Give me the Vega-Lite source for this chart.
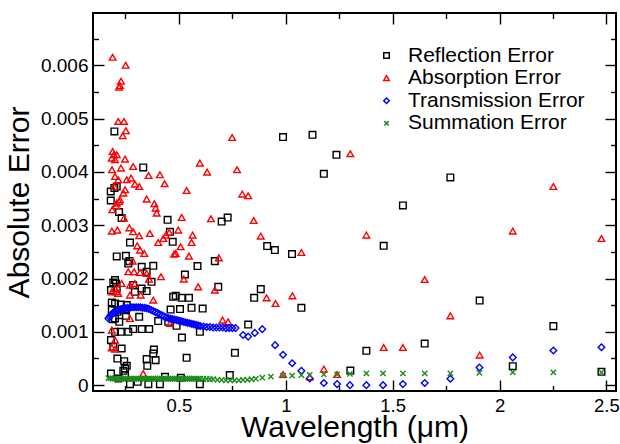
{
"$schema":"https://vega.github.io/schema/vega-lite/v6.json",
"width":523,"height":378,
"autosize":{"type":"none"},
"padding":{"left":93,"top":13,"right":4,"bottom":53},
"config":{"view":{"stroke":"black","strokeWidth":2},"font":"Liberation Sans",
"axis":{"domain":false,"grid":false,"tickColor":"black","tickWidth":1.4,"labelColor":"black","titleColor":"black","labelFont":"Liberation Sans","titleFont":"Liberation Sans","titleFontWeight":"normal","labelFontSize":19,"titleFontSize":30,"format":"~g"}},
"data":{"values":[
{"s":"R","x":0.198,"y":0.004758},{"s":"R","x":0.333,"y":0.004083},{"s":"R","x":0.181,"y":0.003632},{"s":"R","x":0.181,"y":0.003463},{"s":"R","x":0.209,"y":0.003726},{"s":"R","x":0.198,"y":0.003696},{"s":"R","x":0.22,"y":0.003246},{"s":"R","x":0.232,"y":0.003133},{"s":"R","x":0.447,"y":0.003101},{"s":"R","x":0.728,"y":0.003144},{"s":"R","x":0.7,"y":0.003069},{"s":"R","x":0.987,"y":0.004653},{"s":"R","x":1.125,"y":0.004696},{"s":"R","x":1.237,"y":0.004321},{"s":"R","x":1.178,"y":0.003964},{"s":"R","x":1.77,"y":0.003895},{"s":"R","x":1.548,"y":0.00337},{"s":"R","x":1.458,"y":0.002613},{"s":"R","x":1.907,"y":0.001587},{"s":"R","x":2.252,"y":0.001107},{"s":"R","x":1.377,"y":0.000644},{"s":"R","x":1.65,"y":0.00078},{"s":"R","x":2.062,"y":0.000356},{"s":"R","x":2.477,"y":0.00025},{"s":"R","x":1.302,"y":0.000274},{"s":"R","x":0.913,"y":0.002608},{"s":"R","x":0.949,"y":0.002533},{"s":"R","x":1.029,"y":0.002458},{"s":"R","x":1.073,"y":0.00145},{"s":"R","x":0.852,"y":0.001638},{"s":"R","x":0.883,"y":0.001801},{"s":"R","x":0.824,"y":0.001137},{"s":"R","x":0.762,"y":0.000606},{"s":"R","x":0.668,"y":0.002326},{"s":"R","x":0.684,"y":0.001844},{"s":"R","x":0.598,"y":0.001},{"s":"R","x":0.598,"y":0.000019},{"s":"R","x":0.738,"y":0.000188},{"s":"R","x":0.458,"y":0.002876},{"s":"R","x":0.471,"y":0.002689},{"s":"R","x":0.271,"y":0.002675},{"s":"R","x":0.252,"y":0.002426},{"s":"R","x":0.268,"y":0.002326},{"s":"R","x":0.263,"y":0.002281},{"s":"R","x":0.326,"y":0.00222},{"s":"R","x":0.38,"y":0.002238},{"s":"R","x":0.349,"y":0.002126},{"s":"R","x":0.372,"y":0.001938},{"s":"R","x":0.349,"y":0.001764},{"s":"R","x":0.326,"y":0.001812},{"s":"R","x":0.286,"y":0.001876},{"s":"R","x":0.294,"y":0.00175},{"s":"R","x":0.182,"y":0.001782},{"s":"R","x":0.206,"y":0.001906},{"s":"R","x":0.201,"y":0.00197},{"s":"R","x":0.193,"y":0.001925},{"s":"R","x":0.209,"y":0.001812},{"s":"R","x":0.186,"y":0.00155},{"s":"R","x":0.201,"y":0.001531},{"s":"R","x":0.228,"y":0.001512},{"s":"R","x":0.256,"y":0.001501},{"s":"R","x":0.186,"y":0.001407},{"s":"R","x":0.212,"y":0.001375},{"s":"R","x":0.248,"y":0.001407},{"s":"R","x":0.528,"y":0.002075},{"s":"R","x":0.587,"y":0.002233},{"s":"R","x":0.473,"y":0.001657},{"s":"R","x":0.485,"y":0.001675},{"s":"R","x":0.513,"y":0.001638},{"s":"R","x":0.547,"y":0.001638},{"s":"R","x":0.611,"y":0.001437},{"s":"R","x":0.559,"y":0.00145},{"s":"R","x":0.505,"y":0.001426},{"s":"R","x":0.461,"y":0.001418},{"s":"R","x":0.514,"y":0.000893},{"s":"R","x":0.489,"y":0.001113},{"s":"R","x":0.45,"y":0.001188},{"s":"R","x":0.403,"y":0.001201},{"s":"R","x":0.536,"y":0.000512},{"s":"R","x":0.38,"y":0.000593},{"s":"R","x":0.383,"y":0.000668},{"s":"R","x":0.352,"y":0.000362},{"s":"R","x":0.349,"y":0.000488},{"s":"R","x":0.391,"y":0.000469},{"s":"R","x":0.314,"y":0.001281},{"s":"R","x":0.286,"y":0.001051},{"s":"R","x":0.326,"y":0.001051},{"s":"R","x":0.263,"y":0.001},{"s":"R","x":0.228,"y":0.001},{"s":"R","x":0.201,"y":0.001},{"s":"R","x":0.361,"y":0.001051},{"s":"R","x":0.182,"y":0.000844},{"s":"R","x":0.193,"y":0.000719},{"s":"R","x":0.232,"y":0.000687},{"s":"R","x":0.212,"y":0.000499},{"s":"R","x":0.244,"y":0.00045},{"s":"R","x":0.256,"y":0.000362},{"s":"R","x":0.248,"y":0.000311},{"s":"R","x":0.24,"y":0.000268},{"s":"R","x":0.182,"y":0.000218},{"s":"R","x":0.216,"y":0.000124},{"s":"R","x":0.248,"y":0.000188},{"s":"R","x":0.271,"y":0.000019},{"s":"R","x":0.307,"y":0.000062},{"s":"R","x":0.357,"y":0.000019},{"s":"R","x":0.411,"y":0.000019},{"s":"R","x":0.435,"y":0.000156},{"s":"R","x":0.509,"y":0.000137},{"s":"R","x":0.19,"y":0.001238},{"s":"R","x":0.201,"y":0.00125},{"s":"R","x":0.221,"y":0.001188},{"s":"R","x":0.252,"y":0.0013},{"s":"R","x":0.209,"y":0.002413},
{"s":"A","x":0.19,"y":0.00615},{"s":"A","x":0.251,"y":0.006},{"s":"A","x":0.229,"y":0.0057},{"s":"A","x":0.224,"y":0.00562},{"s":"A","x":0.22,"y":0.00559},{"s":"A","x":0.216,"y":0.004946},{"s":"A","x":0.243,"y":0.004946},{"s":"A","x":0.237,"y":0.004677},{"s":"A","x":0.252,"y":0.004771},{"s":"A","x":0.19,"y":0.004383},{"s":"A","x":0.196,"y":0.004321},{"s":"A","x":0.209,"y":0.004321},{"s":"A","x":0.186,"y":0.004259},{"s":"A","x":0.201,"y":0.004227},{"s":"A","x":0.248,"y":0.00424},{"s":"A","x":0.286,"y":0.004101},{"s":"A","x":0.229,"y":0.004071},{"s":"A","x":0.187,"y":0.004039},{"s":"A","x":0.358,"y":0.003932},{"s":"A","x":0.411,"y":0.003946},{"s":"A","x":0.433,"y":0.003777},{"s":"A","x":0.201,"y":0.003914},{"s":"A","x":0.216,"y":0.003852},{"s":"A","x":0.256,"y":0.003852},{"s":"A","x":0.276,"y":0.003884},{"s":"A","x":0.294,"y":0.003771},{"s":"A","x":0.314,"y":0.003726},{"s":"A","x":0.198,"y":0.003726},{"s":"A","x":0.248,"y":0.003664},{"s":"A","x":0.24,"y":0.003602},{"s":"A","x":0.224,"y":0.003477},{"s":"A","x":0.22,"y":0.003445},{"s":"A","x":0.349,"y":0.00349},{"s":"A","x":0.385,"y":0.003402},{"s":"A","x":0.391,"y":0.003321},{"s":"A","x":0.396,"y":0.003227},{"s":"A","x":0.206,"y":0.003364},{"s":"A","x":0.188,"y":0.003289},{"s":"A","x":0.209,"y":0.003415},{"s":"A","x":0.536,"y":0.003651},{"s":"A","x":0.598,"y":0.004165},{"s":"A","x":0.632,"y":0.003996},{"s":"A","x":0.749,"y":0.004645},{"s":"A","x":0.772,"y":0.004039},{"s":"A","x":0.796,"y":0.003583},{"s":"A","x":0.824,"y":0.003552},{"s":"A","x":0.513,"y":0.003144},{"s":"A","x":0.65,"y":0.00312},{"s":"A","x":0.85,"y":0.003088},{"s":"A","x":0.243,"y":0.003133},{"s":"A","x":1.302,"y":0.00434},{"s":"A","x":2.252,"y":0.003726},{"s":"A","x":1.377,"y":0.002814},{"s":"A","x":2.062,"y":0.002889},{"s":"A","x":2.477,"y":0.00275},{"s":"A","x":1.65,"y":0.001981},{"s":"A","x":1.77,"y":0.0013},{"s":"A","x":1.458,"y":0.000705},{"s":"A","x":1.548,"y":0.000705},{"s":"A","x":1.907,"y":0.000563},{"s":"A","x":1.178,"y":0.0003},{"s":"A","x":1.24,"y":0.000199},{"s":"A","x":1.112,"y":0.000156},{"s":"A","x":0.186,"y":0.002889},{"s":"A","x":0.212,"y":0.002908},{"s":"A","x":0.268,"y":0.002951},{"s":"A","x":0.286,"y":0.002876},{"s":"A","x":0.314,"y":0.002801},{"s":"A","x":0.364,"y":0.002844},{"s":"A","x":0.403,"y":0.002675},{"s":"A","x":0.427,"y":0.00275},{"s":"A","x":0.439,"y":0.002814},{"s":"A","x":0.455,"y":0.002863},{"s":"A","x":0.497,"y":0.002908},{"s":"A","x":0.564,"y":0.002814},{"s":"A","x":0.559,"y":0.002675},{"s":"A","x":0.508,"y":0.002595},{"s":"A","x":0.478,"y":0.002458},{"s":"A","x":0.485,"y":0.002469},{"s":"A","x":0.547,"y":0.00242},{"s":"A","x":0.305,"y":0.002613},{"s":"A","x":0.318,"y":0.002533},{"s":"A","x":0.338,"y":0.002469},{"s":"A","x":0.284,"y":0.002326},{"s":"A","x":0.263,"y":0.002126},{"s":"A","x":0.29,"y":0.002126},{"s":"A","x":0.318,"y":0.002113},{"s":"A","x":0.349,"y":0.002094},{"s":"A","x":0.36,"y":0.001989},{"s":"A","x":0.416,"y":0.002032},{"s":"A","x":0.523,"y":0.001989},{"s":"A","x":0.294,"y":0.001906},{"s":"A","x":0.271,"y":0.001876},{"s":"A","x":0.232,"y":0.001906},{"s":"A","x":0.201,"y":0.001812},{"s":"A","x":0.216,"y":0.001719},{"s":"A","x":0.186,"y":0.00175},{"s":"A","x":0.209,"y":0.00175},{"s":"A","x":0.271,"y":0.001689},{"s":"A","x":0.321,"y":0.001689},{"s":"A","x":0.38,"y":0.001595},{"s":"A","x":0.59,"y":0.001844},{"s":"A","x":0.668,"y":0.001782},{"s":"A","x":0.687,"y":0.002388},{"s":"A","x":0.883,"y":0.002795},{"s":"A","x":1.073,"y":0.002488},{"s":"A","x":0.91,"y":0.001638},{"s":"A","x":0.952,"y":0.001531},{"s":"A","x":1.031,"y":0.001675},{"s":"A","x":0.271,"y":0.00125},{"s":"A","x":0.704,"y":0.00122},{"s":"A","x":0.73,"y":0.001188},{"s":"A","x":0.458,"y":0.001156},{"s":"A","x":0.186,"y":0.001032},{"s":"A","x":0.201,"y":0.000844},{"s":"A","x":0.186,"y":0.0007},{"s":"A","x":0.201,"y":0.000675},{"s":"A","x":0.333,"y":0.000218},{"s":"A","x":0.987,"y":0.000199},
{"s":"T","x":0.17,"y":0.00125},{"s":"T","x":0.175,"y":0.00128},{"s":"T","x":0.18,"y":0.00131},{"s":"T","x":0.185,"y":0.00133},{"s":"T","x":0.19,"y":0.00135},{"s":"T","x":0.195,"y":0.00136},{"s":"T","x":0.2,"y":0.00137},{"s":"T","x":0.205,"y":0.00138},{"s":"T","x":0.21,"y":0.00139},{"s":"T","x":0.215,"y":0.0014},{"s":"T","x":0.22,"y":0.00141},{"s":"T","x":0.225,"y":0.00142},{"s":"T","x":0.23,"y":0.00142},{"s":"T","x":0.235,"y":0.00143},{"s":"T","x":0.24,"y":0.00143},{"s":"T","x":0.245,"y":0.00144},{"s":"T","x":0.25,"y":0.00144},{"s":"T","x":0.26,"y":0.00145},{"s":"T","x":0.27,"y":0.00145},{"s":"T","x":0.28,"y":0.00146},{"s":"T","x":0.29,"y":0.00146},{"s":"T","x":0.3,"y":0.00146},{"s":"T","x":0.31,"y":0.00146},{"s":"T","x":0.32,"y":0.00146},{"s":"T","x":0.33,"y":0.00145},{"s":"T","x":0.34,"y":0.00145},{"s":"T","x":0.35,"y":0.00144},{"s":"T","x":0.36,"y":0.00143},{"s":"T","x":0.37,"y":0.00141},{"s":"T","x":0.38,"y":0.00139},{"s":"T","x":0.39,"y":0.00137},{"s":"T","x":0.4,"y":0.00135},{"s":"T","x":0.41,"y":0.00133},{"s":"T","x":0.42,"y":0.00131},{"s":"T","x":0.43,"y":0.00129},{"s":"T","x":0.44,"y":0.00127},{"s":"T","x":0.45,"y":0.00126},{"s":"T","x":0.46,"y":0.00125},{"s":"T","x":0.47,"y":0.00124},{"s":"T","x":0.48,"y":0.00123},{"s":"T","x":0.49,"y":0.00122},{"s":"T","x":0.5,"y":0.00121},{"s":"T","x":0.51,"y":0.0012},{"s":"T","x":0.52,"y":0.00119},{"s":"T","x":0.53,"y":0.00118},{"s":"T","x":0.54,"y":0.00117},{"s":"T","x":0.55,"y":0.00116},{"s":"T","x":0.56,"y":0.00115},{"s":"T","x":0.57,"y":0.00114},{"s":"T","x":0.58,"y":0.00113},{"s":"T","x":0.59,"y":0.00112},{"s":"T","x":0.6,"y":0.00111},{"s":"T","x":0.615,"y":0.0011},{"s":"T","x":0.63,"y":0.00109},{"s":"T","x":0.645,"y":0.00109},{"s":"T","x":0.66,"y":0.00108},{"s":"T","x":0.675,"y":0.00108},{"s":"T","x":0.69,"y":0.00108},{"s":"T","x":0.705,"y":0.00108},{"s":"T","x":0.72,"y":0.00107},{"s":"T","x":0.735,"y":0.00107},{"s":"T","x":0.75,"y":0.00107},{"s":"T","x":0.765,"y":0.00107},{"s":"T","x":0.8,"y":0.00094},{"s":"T","x":0.824,"y":0.00091},{"s":"T","x":0.855,"y":0.00098},{"s":"T","x":0.89,"y":0.00105},{"s":"T","x":0.95,"y":0.00075},{"s":"T","x":0.987,"y":0.00057},{"s":"T","x":1.03,"y":0.00041},{"s":"T","x":1.073,"y":0.00027},{"s":"T","x":1.112,"y":0.000124},{"s":"T","x":1.178,"y":0.00004},{"s":"T","x":1.24,"y":0.00002},{"s":"T","x":1.3,"y":0.0},{"s":"T","x":1.377,"y":0.0},{"s":"T","x":1.455,"y":0.0},{"s":"T","x":1.548,"y":0.00002},{"s":"T","x":1.65,"y":0.00004},{"s":"T","x":1.77,"y":0.00012},{"s":"T","x":1.906,"y":0.00033},{"s":"T","x":2.062,"y":0.00052},{"s":"T","x":2.252,"y":0.00065},{"s":"T","x":2.477,"y":0.00071},
{"s":"S","x":0.17,"y":0.00013},{"s":"S","x":0.18,"y":0.00013},{"s":"S","x":0.19,"y":0.00012},{"s":"S","x":0.2,"y":0.00012},{"s":"S","x":0.21,"y":0.00012},{"s":"S","x":0.22,"y":0.00012},{"s":"S","x":0.23,"y":0.00012},{"s":"S","x":0.24,"y":0.00012},{"s":"S","x":0.25,"y":0.00012},{"s":"S","x":0.26,"y":0.00012},{"s":"S","x":0.27,"y":0.00012},{"s":"S","x":0.28,"y":0.00012},{"s":"S","x":0.29,"y":0.00012},{"s":"S","x":0.3,"y":0.00012},{"s":"S","x":0.31,"y":0.00012},{"s":"S","x":0.32,"y":0.00012},{"s":"S","x":0.33,"y":0.00012},{"s":"S","x":0.34,"y":0.00012},{"s":"S","x":0.35,"y":0.00012},{"s":"S","x":0.36,"y":0.00012},{"s":"S","x":0.37,"y":0.00012},{"s":"S","x":0.38,"y":0.00012},{"s":"S","x":0.39,"y":0.00012},{"s":"S","x":0.4,"y":0.00012},{"s":"S","x":0.41,"y":0.00012},{"s":"S","x":0.42,"y":0.00012},{"s":"S","x":0.43,"y":0.00012},{"s":"S","x":0.44,"y":0.00012},{"s":"S","x":0.45,"y":0.00012},{"s":"S","x":0.46,"y":0.00012},{"s":"S","x":0.47,"y":0.00012},{"s":"S","x":0.48,"y":0.00012},{"s":"S","x":0.49,"y":0.00012},{"s":"S","x":0.5,"y":0.00012},{"s":"S","x":0.51,"y":0.00012},{"s":"S","x":0.52,"y":0.00012},{"s":"S","x":0.53,"y":0.00012},{"s":"S","x":0.54,"y":0.00012},{"s":"S","x":0.55,"y":0.00012},{"s":"S","x":0.56,"y":0.00012},{"s":"S","x":0.57,"y":0.00012},{"s":"S","x":0.58,"y":0.00012},{"s":"S","x":0.59,"y":0.00012},{"s":"S","x":0.6,"y":0.00012},{"s":"S","x":0.615,"y":0.000115},{"s":"S","x":0.63,"y":0.000115},{"s":"S","x":0.645,"y":0.00011},{"s":"S","x":0.66,"y":0.00011},{"s":"S","x":0.68,"y":0.0001},{"s":"S","x":0.7,"y":0.0001},{"s":"S","x":0.72,"y":0.00009},{"s":"S","x":0.74,"y":0.00009},{"s":"S","x":0.76,"y":0.00009},{"s":"S","x":0.78,"y":0.00009},{"s":"S","x":0.8,"y":0.0001},{"s":"S","x":0.82,"y":0.0001},{"s":"S","x":0.84,"y":0.00011},{"s":"S","x":0.86,"y":0.00012},{"s":"S","x":0.89,"y":0.00014},{"s":"S","x":0.93,"y":0.00016},{"s":"S","x":0.987,"y":0.00018},{"s":"S","x":1.03,"y":0.00018},{"s":"S","x":1.073,"y":0.00019},{"s":"S","x":1.112,"y":0.00019},{"s":"S","x":1.178,"y":0.0002},{"s":"S","x":1.24,"y":0.0002},{"s":"S","x":1.3,"y":0.00021},{"s":"S","x":1.377,"y":0.00022},{"s":"S","x":1.455,"y":0.00022},{"s":"S","x":1.548,"y":0.00022},{"s":"S","x":1.65,"y":0.00022},{"s":"S","x":1.77,"y":0.00022},{"s":"S","x":1.906,"y":0.00023},{"s":"S","x":2.062,"y":0.00024},{"s":"S","x":2.252,"y":0.00024},{"s":"S","x":2.477,"y":0.00024}
]},
"resolve":{"scale":{"x":"shared","y":"shared"},"axis":{"x":"independent","y":"independent"}},
"layer":[
{"mark":{"type":"point","filled":false,"strokeWidth":1.4,"size":44,"opacity":1},
 "encoding":{
  "x":{"field":"x","type":"quantitative","scale":{"domain":[0.098,2.545],"nice":false,"zero":false},
   "axis":{"orient":"bottom","values":[0.5,1,1.5,2,2.5],"tickSize":-11,"labelPadding":16,"labelFontSize":18.5,"title":"Wavelength (μm)","titlePadding":-2}},
  "y":{"field":"y","type":"quantitative","scale":{"domain":[-0.00011,0.00698],"nice":false,"zero":false},
   "axis":{"orient":"left","values":[0,0.001,0.002,0.003,0.004,0.005,0.006],"tickSize":-11,"labelPadding":16,"title":"Absolute Error","titlePadding":6}},
  "color":{"field":"s","type":"nominal","scale":{"domain":["R","A","T","S"],"range":["#000000","#ff0000","#0000ff","#1a8c1a"]},
   "legend":{"orient":"none","legendX":283,"legendY":32,"title":null,"labelFontSize":21,"labelLimit":400,"labelColor":"black","symbolSize":30,"symbolStrokeWidth":1.5,"labelOffset":11,"rowPadding":0.6,
   "labelExpr":"{'R':'Reflection Error','A':'Absorption Error','T':'Transmission Error','S':'Summation Error'}[datum.label]"}},
  "shape":{"field":"s","type":"nominal","scale":{"domain":["R","A","T","S"],"range":["square","triangle-up","diamond","M-0.8,-0.8L0.8,0.8M-0.8,0.8L0.8,-0.8"]},
   "legend":null}
 }},
{"mark":{"type":"point","opacity":0},
 "encoding":{
  "x":{"field":"x","type":"quantitative","axis":{"orient":"bottom","values":[0.25,0.75,1.25,1.75,2.25],"tickSize":-5.5,"labels":false,"title":null}},
  "y":{"field":"y","type":"quantitative","axis":{"orient":"left","values":[0.0005,0.0015,0.0025,0.0035,0.0045,0.0055,0.0065],"tickSize":-5.5,"labels":false,"title":null}}}},
{"mark":{"type":"point","opacity":0},
 "encoding":{
  "x":{"field":"x","type":"quantitative","axis":{"orient":"top","values":[0.5,1,1.5,2,2.5],"tickSize":-11,"labels":false,"title":null}},
  "y":{"field":"y","type":"quantitative","axis":{"orient":"right","values":[0,0.001,0.002,0.003,0.004,0.005,0.006],"tickSize":-11,"labels":false,"title":null}}}},
{"mark":{"type":"point","opacity":0},
 "encoding":{
  "x":{"field":"x","type":"quantitative","axis":{"orient":"top","values":[0.25,0.75,1.25,1.75,2.25],"tickSize":-5.5,"labels":false,"title":null}},
  "y":{"field":"y","type":"quantitative","axis":{"orient":"right","values":[0.0005,0.0015,0.0025,0.0035,0.0045,0.0055,0.0065],"tickSize":-5.5,"labels":false,"title":null}}}}
]
}
